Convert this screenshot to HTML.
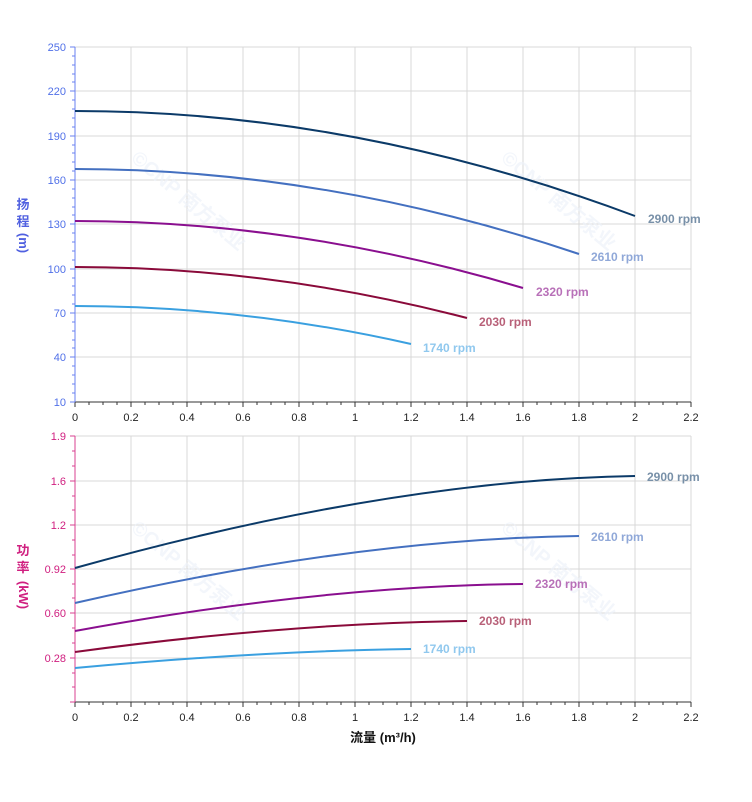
<!DOCTYPE html>
<html><head><meta charset="utf-8"><style>body{margin:0;background:#fff}</style></head><body>
<svg width="752" height="797" xmlns="http://www.w3.org/2000/svg" font-family="Liberation Sans, Noto Sans CJK SC, sans-serif">
<rect width="752" height="797" fill="#fff"/>
<g stroke="#d8d8d8" stroke-width="1">
<line x1="131" y1="47" x2="131" y2="402"/><line x1="187" y1="47" x2="187" y2="402"/><line x1="243" y1="47" x2="243" y2="402"/><line x1="299" y1="47" x2="299" y2="402"/><line x1="355" y1="47" x2="355" y2="402"/><line x1="411" y1="47" x2="411" y2="402"/><line x1="467" y1="47" x2="467" y2="402"/><line x1="523" y1="47" x2="523" y2="402"/><line x1="579" y1="47" x2="579" y2="402"/><line x1="635" y1="47" x2="635" y2="402"/><line x1="691" y1="47" x2="691" y2="402"/>
<line x1="75" y1="47" x2="691" y2="47"/><line x1="75" y1="91" x2="691" y2="91"/><line x1="75" y1="136" x2="691" y2="136"/><line x1="75" y1="180" x2="691" y2="180"/><line x1="75" y1="224" x2="691" y2="224"/><line x1="75" y1="269" x2="691" y2="269"/><line x1="75" y1="313" x2="691" y2="313"/><line x1="75" y1="357" x2="691" y2="357"/>
<line x1="131" y1="436" x2="131" y2="702"/><line x1="187" y1="436" x2="187" y2="702"/><line x1="243" y1="436" x2="243" y2="702"/><line x1="299" y1="436" x2="299" y2="702"/><line x1="355" y1="436" x2="355" y2="702"/><line x1="411" y1="436" x2="411" y2="702"/><line x1="467" y1="436" x2="467" y2="702"/><line x1="523" y1="436" x2="523" y2="702"/><line x1="579" y1="436" x2="579" y2="702"/><line x1="635" y1="436" x2="635" y2="702"/><line x1="691" y1="436" x2="691" y2="702"/>
<line x1="75" y1="436" x2="691" y2="436"/><line x1="75" y1="481" x2="691" y2="481"/><line x1="75" y1="525" x2="691" y2="525"/><line x1="75" y1="569" x2="691" y2="569"/><line x1="75" y1="613" x2="691" y2="613"/><line x1="75" y1="658" x2="691" y2="658"/>
</g>
<g stroke="#333" stroke-width="1"><line x1="75" y1="402" x2="691" y2="402"/><line x1="75" y1="702" x2="691" y2="702"/></g>
<line x1="75" y1="47" x2="75" y2="402" stroke="#6a80f0"/>
<line x1="75" y1="436" x2="75" y2="702" stroke="#d84090"/>
<g id="tk" stroke="#333">
<path d="M75 402v5M89 402v3M103 402v3M117 402v3M131 402v5M145 402v3M159 402v3M173 402v3M187 402v5M201 402v3M215 402v3M229 402v3M243 402v5M257 402v3M271 402v3M285 402v3M299 402v5M313 402v3M327 402v3M341 402v3M355 402v5M369 402v3M383 402v3M397 402v3M411 402v5M425 402v3M439 402v3M453 402v3M467 402v5M481 402v3M495 402v3M509 402v3M523 402v5M537 402v3M551 402v3M565 402v3M579 402v5M593 402v3M607 402v3M621 402v3M635 402v5M649 402v3M663 402v3M677 402v3M691 402v5"/>
</g>
<use href="#tk" transform="translate(0,300)"/>
<g stroke="#6a80f0">
<path d="M70 47h5M70 91h5M70 136h5M70 180h5M70 224h5M70 269h5M70 313h5M70 357h5M70 402h5"/>
<path d="M72 56h3M72 65h3M72 74h3M72 82h3M72 100h3M72 109h3M72 118h3M72 127h3M72 145h3M72 153h3M72 162h3M72 171h3M72 189h3M72 198h3M72 207h3M72 215h3M72 233h3M72 242h3M72 251h3M72 260h3M72 278h3M72 286h3M72 295h3M72 304h3M72 322h3M72 331h3M72 340h3M72 348h3M72 366h3M72 375h3M72 384h3M72 393h3"/>
</g>
<g stroke="#d84090">
<path d="M70 436h5M70 481h5M70 525h5M70 569h5M70 613h5M70 658h5M70 702h5"/>
<path d="M72 451h3M72 466h3M72 496h3M72 510h3M72 540h3M72 555h3M72 584h3M72 598h3M72 628h3M72 643h3M72 673h3M72 687h3"/>
</g>
<g font-size="11" fill="#5070e8" text-anchor="end">
<text x="66" y="51">250</text><text x="66" y="95">220</text><text x="66" y="140">190</text><text x="66" y="184">160</text><text x="66" y="228">130</text><text x="66" y="273">100</text><text x="66" y="317">70</text><text x="66" y="361">40</text><text x="66" y="406">10</text>
</g>
<g font-size="11" fill="#d02080" text-anchor="end">
<text x="66" y="440">1.9</text><text x="66" y="485">1.6</text><text x="66" y="529">1.2</text><text x="66" y="573">0.92</text><text x="66" y="617">0.60</text><text x="66" y="662">0.28</text>
</g>
<g font-size="11" fill="#222" text-anchor="middle" id="xl">
<text x="75" y="421">0</text><text x="131" y="421">0.2</text><text x="187" y="421">0.4</text><text x="243" y="421">0.6</text><text x="299" y="421">0.8</text><text x="355" y="421">1</text><text x="411" y="421">1.2</text><text x="467" y="421">1.4</text><text x="523" y="421">1.6</text><text x="579" y="421">1.8</text><text x="635" y="421">2</text><text x="691" y="421">2.2</text>
</g>
<use href="#xl" transform="translate(0,300)"/>
<g font-size="13" font-weight="bold" fill="#5060e0" text-anchor="middle">
<text x="23" y="209">扬</text><text x="23" y="226">程</text>
<text x="23" y="243" transform="rotate(90 23 243)" dy="4">(m)</text>
</g>
<g font-size="13" font-weight="bold" fill="#d02080" text-anchor="middle">
<text x="23" y="555">功</text><text x="23" y="572">率</text>
<text x="23" y="595" transform="rotate(90 23 595)" dy="4">(kW)</text>
</g>
<text x="383" y="742" font-size="13" font-weight="bold" fill="#111" text-anchor="middle">流量 (m³/h)</text>
<g font-size="20" font-weight="bold" fill="#eef3fa" opacity="0.7">
<text x="130" y="530" transform="rotate(40 130 530)">©CNP 南方泵业</text>
<text x="500" y="530" transform="rotate(40 500 530)">©CNP 南方泵业</text>
<text x="130" y="160" transform="rotate(40 130 160)">©CNP 南方泵业</text>
<text x="500" y="160" transform="rotate(40 500 160)">©CNP 南方泵业</text>
</g>
<g fill="none" stroke-width="2">
<path d="M75 111Q355 111 635 216" stroke="#0b3a68"/>
<path d="M75 169Q327 169 579 254" stroke="#4470c0"/>
<path d="M75 221Q299 221 523 288" stroke="#8a0f8f"/>
<path d="M75 267Q271 267 467 318" stroke="#8a0a3a"/>
<path d="M75 306Q243 306 411 344" stroke="#3aa0e0"/>
<path d="M75 568Q390 480 635 476" stroke="#0b3a68"/>
<path d="M75 603Q355 539 579 536" stroke="#4470c0"/>
<path d="M75 631Q320 586 523 584" stroke="#8a0f8f"/>
<path d="M75 652Q290 623 467 621" stroke="#8a0a3a"/>
<path d="M75 668Q260 651 411 649" stroke="#3aa0e0"/>
</g>
<g font-size="12" font-weight="bold">
<text x="648" y="223" fill="#7890a8">2900 rpm</text>
<text x="591" y="261" fill="#90a8d8">2610 rpm</text>
<text x="536" y="296" fill="#b870b8">2320 rpm</text>
<text x="479" y="326" fill="#b86078">2030 rpm</text>
<text x="423" y="352" fill="#90c8ee">1740 rpm</text>
<text x="647" y="481" fill="#7890a8">2900 rpm</text>
<text x="591" y="541" fill="#90a8d8">2610 rpm</text>
<text x="535" y="588" fill="#b870b8">2320 rpm</text>
<text x="479" y="625" fill="#b86078">2030 rpm</text>
<text x="423" y="653" fill="#90c8ee">1740 rpm</text>
</g>
</svg>
</body></html>
